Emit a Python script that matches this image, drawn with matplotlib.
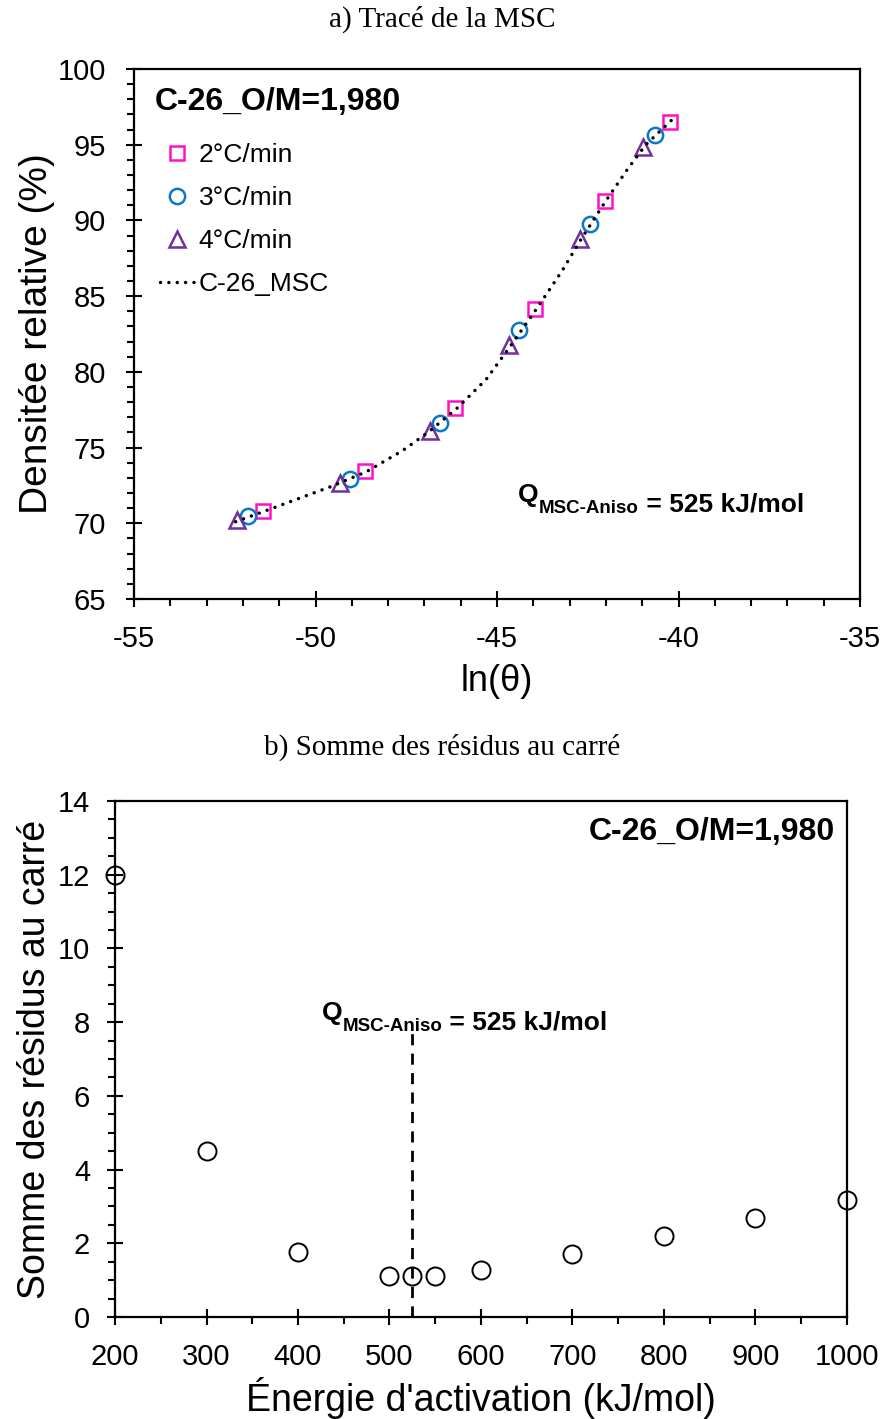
import matplotlib.pyplot as plt
import numpy as np
from matplotlib.lines import Line2D

plt.rcParams['font.family'] = ['Liberation Sans', 'DejaVu Sans']

# --- a) MSC data ---
x_2c = [-51.45, -48.64, -46.16, -43.95, -42.02, -40.23]
y_2c = [70.8, 73.45, 77.6, 84.15, 91.3, 96.5]
x_3c = [-51.86, -49.05, -46.57, -44.40, -42.44, -40.65]
y_3c = [70.48, 72.9, 76.6, 82.76, 89.76, 95.64]
x_4c = [-52.16, -49.33, -46.85, -44.67, -42.71, -40.98]
y_4c = [70.2, 72.65, 76.1, 81.77, 88.77, 94.85]
x_msc = [-52.2, -51.4, -50.5, -49.6, -48.6, -47.6, -46.9, -46.1, -45.3, -44.6,
         -43.9, -43.2, -42.7, -42.0, -41.4, -40.9, -40.2]
y_msc = [70.1, 70.8, 71.6, 72.4, 73.4, 74.8, 76.0, 77.6, 79.5, 81.8,
         84.2, 86.7, 88.7, 91.3, 93.4, 95.0, 96.6]

# --- b) residuals ---
energy = [200, 300, 400, 500, 525, 550, 600, 700, 800, 900, 1000]
residus = [12.0, 4.5, 1.75, 1.12, 1.10, 1.12, 1.28, 1.70, 2.2, 2.68, 3.17]
q_msc = 525

fig = plt.figure(figsize=(8.84, 14.19), dpi=100)
ax1 = fig.add_axes([0.1516, 0.5779, 0.8213, 0.3735])
ax2 = fig.add_axes([0.1301, 0.0719, 0.8280, 0.3636])

fig.text(0.5, 0.9866, 'a) Tracé de la MSC', ha='center', va='center',
         family='Liberation Serif', fontsize=21)
fig.text(0.5, 0.4736, 'b) Somme des résidus au carré', ha='center', va='center',
         family='Liberation Serif', fontsize=21)

dots = (0, (0.01, 2.4))

# panel a
ax1.plot(x_msc, y_msc, color='black', lw=2.5, linestyle=dots, dash_capstyle='round',
         zorder=3)
ax1.plot(x_2c, y_2c, 's', ms=10, mfc='none', mec='#FF10C8', mew=1.8, zorder=2)
ax1.plot(x_3c, y_3c, 'o', ms=11, mfc='none', mec='#0A78C8', mew=1.8, zorder=2)
ax1.plot(x_4c, y_4c, '^', ms=11, mfc='none', mec='#7030A0', mew=1.8, zorder=2)

ax1.set_xlim(-55, -35)
ax1.set_ylim(65, 100)
ax1.set_xticks(np.arange(-55, -34, 5))
ax1.set_yticks(np.arange(65, 101, 5))
ax1.set_xticks(np.arange(-55, -35, 1), minor=True)
ax1.set_yticks(np.arange(65, 100, 1), minor=True)
ax1.set_xticklabels(['-55', '-50', '-45', '-40', '-35'])
ax1.set_xlabel('ln(θ)', fontsize=26, labelpad=8)
ax1.set_ylabel('Densitée relative (%)', fontsize=28, labelpad=2)

handles = [
    Line2D([], [], ls='none', marker='s', ms=10, mfc='none', mec='#FF10C8', mew=1.8),
    Line2D([], [], ls='none', marker='o', ms=11, mfc='none', mec='#0A78C8', mew=1.8),
    Line2D([], [], ls='none', marker='^', ms=11, mfc='none', mec='#7030A0', mew=1.8),
    Line2D([], [], color='black', lw=2.5, linestyle=dots, dash_capstyle='round'),
]
ax1.legend(handles, ['2°C/min', '3°C/min', '4°C/min', 'C-26_MSC'], loc='upper left',
           bbox_to_anchor=(0.018, 0.885), frameon=False, fontsize=19,
           handlelength=1.3, handletextpad=0.15, labelspacing=0.72, borderpad=0)

ax1.text(-54.42, 97.3, 'C-26_O/M=1,980', fontsize=23, fontweight='bold', va='baseline')

q1 = ax1.text(-44.42, 71.4, 'Q', fontsize=19, fontweight='bold', va='baseline')
s1 = ax1.annotate('MSC-Aniso', xy=(1, 0), xycoords=q1, xytext=(0, -4),
                  textcoords='offset points', fontsize=13.5, fontweight='bold',
                  va='baseline')
ax1.annotate(' = 525 kJ/mol', xy=(1, 0), xycoords=s1, xytext=(0, 4),
             textcoords='offset points', fontsize=19, fontweight='bold', va='baseline')

# panel b
ax2.plot(energy, residus, 'o', ms=13, mfc='none', mec='black', mew=1.4, clip_on=False,
         zorder=3)
ax2.plot([q_msc, q_msc], [0, 7.7], color='black', lw=2, ls=(0, (4, 3)))
ax2.set_xlim(200, 1000)
ax2.set_ylim(0, 14)
ax2.set_xticks(np.arange(200, 1001, 100))
ax2.set_yticks(np.arange(0, 15, 2))
ax2.set_xticks(np.arange(200, 1000, 50), minor=True)
ax2.set_yticks(np.arange(0, 14, 0.5), minor=True)
ax2.set_xlabel("Énergie d'activation (kJ/mol)", fontsize=27, labelpad=4)
ax2.set_ylabel('Somme des résidus au carré', fontsize=27, labelpad=3)

ax2.text(987, 12.94, 'C-26_O/M=1,980', fontsize=23, fontweight='bold', ha='right',
         va='baseline')
q2 = ax2.text(426, 8.05, 'Q', fontsize=19, fontweight='bold', va='baseline')
s2 = ax2.annotate('MSC-Aniso', xy=(1, 0), xycoords=q2, xytext=(0, -4),
                  textcoords='offset points', fontsize=13.5, fontweight='bold',
                  va='baseline')
ax2.annotate(' = 525 kJ/mol', xy=(1, 0), xycoords=s2, xytext=(0, 4),
             textcoords='offset points', fontsize=19, fontweight='bold', va='baseline')

for ax in (ax1, ax2):
    for sp in ax.spines.values():
        sp.set_linewidth(1.6)
    ax.tick_params(which='major', direction='inout', length=12, width=1.5,
                   labelsize=21, right=False, top=False)
    ax.tick_params(which='minor', direction='out', length=5, width=1.5)
    ax.tick_params(axis='x', which='major', pad=13)
ax1.tick_params(axis='y', which='major', pad=14)
ax2.tick_params(axis='y', which='major', pad=12)

fig.savefig('out.png', dpi=100)
